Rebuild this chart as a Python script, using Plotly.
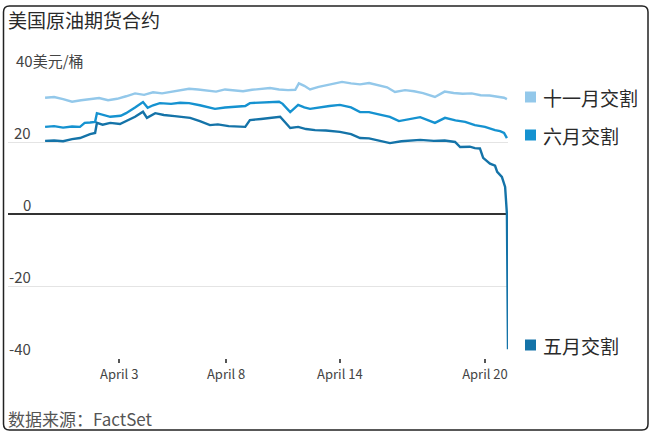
import plotly.graph_objects as go

# ---------------- data (x in trading days from April 1) ----------------
nov_x = [0, 0.25, 0.5, 0.75, 1.0, 1.25, 1.5, 1.75, 2.0, 2.25, 2.5, 2.75, 3.0, 3.25, 3.5,
         3.75, 4.0, 4.25, 4.5, 4.75, 5.0, 5.25, 5.5, 5.75, 6.0, 6.25, 6.5, 6.75, 6.95,
         7.05, 7.2, 7.36, 7.6, 7.85, 8.1, 8.25, 8.5, 8.75, 9.0, 9.25, 9.5, 9.72, 10.0,
         10.25, 10.5, 10.83, 11.1, 11.35, 11.6, 11.85, 12.1, 12.35, 12.6, 12.75, 12.83]
nov_y = [32.3, 32.5, 31.9, 31.2, 31.6, 31.9, 32.2, 31.6, 32.0, 32.7, 33.5, 33.1, 33.8, 33.5, 34.0,
         34.5, 34.8, 34.6, 34.2, 34.0, 34.6, 34.3, 34.1, 34.5, 34.8, 35.0, 34.6, 34.4, 34.5,
         36.3, 35.6, 34.6, 35.3, 35.9, 36.3, 36.7, 36.3, 36.0, 36.4, 35.8, 35.2, 33.9, 34.4,
         34.1, 33.6, 32.5, 34.0, 33.6, 33.4, 33.5, 33.0, 32.9, 32.6, 32.3, 31.9]

jun_x = [0, 0.25, 0.5, 0.75, 0.97, 1.1, 1.25, 1.39, 1.44, 1.6, 1.81, 2.1, 2.25, 2.5, 2.72,
         2.85, 3.0, 3.19, 3.5, 3.75, 4.0, 4.3, 4.58, 4.72, 5.0, 5.3, 5.56, 5.69, 6.0, 6.25,
         6.5, 6.6, 6.81, 7.03, 7.2, 7.36, 7.6, 7.9, 8.19, 8.5, 8.75, 9.0, 9.3, 9.58, 9.83,
         10.1, 10.42, 10.83, 11.11, 11.4, 11.67, 11.94, 12.22, 12.5, 12.64, 12.75, 12.83]
jun_y = [24.2, 24.4, 24.0, 24.3, 24.2, 25.3, 25.4, 25.6, 28.0, 27.6, 27.0, 27.3, 28.0, 29.6, 31.1,
         29.5, 30.2, 30.8, 30.6, 30.9, 30.8, 30.2, 29.4, 29.2, 29.6, 29.9, 30.0, 30.8, 30.9, 31.1,
         31.2, 30.6, 28.3, 30.3, 29.6, 29.2, 29.6, 30.0, 30.3, 29.6, 28.3, 28.3, 27.6, 27.0, 25.8,
         26.3, 26.9, 25.3, 26.7, 26.0, 25.6, 24.7, 24.2, 23.3, 23.0, 22.5, 21.1]

may_x = [0, 0.25, 0.5, 0.75, 0.97, 1.25, 1.39, 1.44, 1.6, 1.81, 2.08, 2.3, 2.5, 2.72, 2.83,
         3.06, 3.3, 3.6, 4.03, 4.3, 4.58, 4.8, 5.1, 5.56, 5.69, 6.0, 6.25, 6.53, 6.81, 7.03,
         7.25, 7.5, 7.8, 8.19, 8.5, 8.75, 9.0, 9.3, 9.58, 9.9, 10.2, 10.42, 10.8, 11.1, 11.39,
         11.53, 11.8, 11.94, 12.08, 12.17, 12.36, 12.5, 12.56, 12.69, 12.78, 12.83, 12.86]
may_y = [20.3, 20.4, 20.2, 20.8, 21.1, 22.2, 22.5, 25.3, 24.8, 25.3, 25.0, 26.1, 27.0, 28.4, 26.7,
         28.0, 27.5, 27.2, 26.7, 25.8, 24.7, 24.9, 24.4, 24.2, 26.1, 26.4, 26.7, 27.0, 23.9, 24.2,
         23.6, 23.3, 23.2, 22.8, 22.2, 21.1, 21.0, 20.4, 19.7, 20.2, 20.5, 20.6, 20.3, 20.4, 20.0,
         18.6, 18.7, 18.3, 18.2, 15.6, 14.0, 13.4, 11.7, 10.3, 7.5, 0.0, -37.6]

series_names = ["十一月交割", "六月交割", "五月交割"]
series_colors = ["#93c8ea", "#1592d0", "#1473a8"]

tick_vals = [2.06, 5.03, 8.19, 12.22]
tick_text = ["April 3", "April 8", "April 14", "April 20"]
y_grid = [40, 20, 0, -20, -40]

title = "美国原油期货合约"
unit = "美元/桶"
source = "数据来源：FactSet"

# ---------------- layout geometry (pixels) ----------------
W, H = 652, 434
L, R, T, B = 8, 508, 70, 358
FONT = "Noto Sans CJK SC, Noto Sans, sans-serif"


def px_x(p):
    return (p - L) / (R - L)


def px_y(p):
    return (B - p) / (B - T)


fig = go.Figure()
for xs, ys, nm, col in zip([nov_x, jun_x, may_x], [nov_y, jun_y, may_y], series_names, series_colors):
    fig.add_trace(go.Scatter(x=xs, y=ys, mode="lines", name=nm,
                             line=dict(color=col, width=2.4), hoverinfo="skip"))

fig.update_layout(
    width=W, height=H,
    margin=dict(l=L, r=W - R, t=T, b=H - B, autoexpand=False),
    paper_bgcolor="white", plot_bgcolor="white",
    showlegend=False,
    font=dict(family=FONT, color="#444"),
)
fig.update_xaxes(range=[-1.03, 12.86], tickvals=tick_vals, ticktext=tick_text,
                 ticks="outside", ticklen=4, tickwidth=1.5, tickcolor="#555",
                 tickfont=dict(size=13, color="#444"), showgrid=False, zeroline=False,
                 showline=False, fixedrange=True)
fig.update_yaxes(range=[-40, 40], tickvals=y_grid, showticklabels=False,
                 showgrid=True, gridcolor="#e4e4e4", gridwidth=1,
                 zeroline=True, zerolinecolor="#333", zerolinewidth=1.5, fixedrange=True)

# y tick labels above gridlines
for v in y_grid:
    if v == 40:
        fig.add_annotation(x=px_x(14), y=v, xref="paper", yref="y", text=f"{v}{unit}",
                           showarrow=False, xanchor="left", yanchor="bottom", yshift=-3,
                           font=dict(size=15, color="#444", family=FONT))
    else:
        fig.add_annotation(x=px_x(33), y=v, xref="paper", yref="y", text=str(v),
                           showarrow=False, xanchor="right", yanchor="bottom", yshift=-3,
                           font=dict(size=15, color="#444", family=FONT))

# title and source
fig.add_annotation(x=px_x(6), y=px_y(19), xref="paper", yref="paper", text=title,
                   showarrow=False, xanchor="left", yanchor="middle",
                   font=dict(size=19, color="#2a2a2a", family=FONT))
fig.add_annotation(x=px_x(6), y=px_y(418), xref="paper", yref="paper", text=source,
                   showarrow=False, xanchor="left", yanchor="middle",
                   font=dict(size=17, color="#555", family=FONT))

# manual legend at line ends
legend_y = [97, 135, 345]
for nm, col, ly in zip(series_names, series_colors, legend_y):
    fig.add_shape(type="rect", xref="paper", yref="paper",
                  x0=px_x(525), x1=px_x(536), y0=px_y(ly - 5.5), y1=px_y(ly + 5.5),
                  fillcolor=col, line=dict(width=0))
    fig.add_annotation(x=px_x(541), y=px_y(ly), xref="paper", yref="paper", text=nm,
                       showarrow=False, xanchor="left", yanchor="middle",
                       font=dict(size=19, color="#2a2a2a", family=FONT))

# rounded border
bx0, bx1, by0, by1, r = 3.5, 648, 6, 430, 6
def P(x, y):
    return f"{px_x(x):.5f},{px_y(y):.5f}"
path = (f"M {P(bx0 + r, by0)} L {P(bx1 - r, by0)} Q {P(bx1, by0)} {P(bx1, by0 + r)} "
        f"L {P(bx1, by1 - r)} Q {P(bx1, by1)} {P(bx1 - r, by1)} "
        f"L {P(bx0 + r, by1)} Q {P(bx0, by1)} {P(bx0, by1 - r)} "
        f"L {P(bx0, by0 + r)} Q {P(bx0, by0)} {P(bx0 + r, by0)} Z")
fig.add_shape(type="path", xref="paper", yref="paper", path=path,
              line=dict(color="#222", width=1.5), layer="above")

fig.write_html("out.html", config={"displayModeBar": False},
               post_script="document.body.style.margin='0';document.body.style.padding='0';"
                           "document.body.style.overflow='hidden';")
